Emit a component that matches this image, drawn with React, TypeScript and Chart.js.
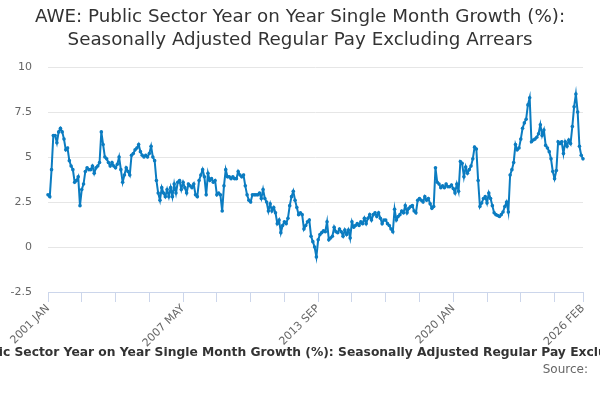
import { useEffect, useRef } from 'react'
import { Chart, registerables } from 'chart.js'

Chart.register(...registerables)

const TITLE = [
  'AWE: Public Sector Year on Year Single Month Growth (%):',
  'Seasonally Adjusted Regular Pay Excluding Arrears',
]
const SERIES_NAME =
  'AWE: Public Sector Year on Year Single Month Growth (%): Seasonally Adjusted Regular Pay Excluding Arrears'
const SOURCE = 'Source:'

const MONTHS = ['JAN', 'FEB', 'MAR', 'APR', 'MAY', 'JUN', 'JUL', 'AUG', 'SEP', 'OCT', 'NOV', 'DEC']
const FIRST_YEAR = 2001

// monthly values, 2001 JAN .. 2026 FEB
const VALUES = [
  2.9, 2.8, 4.3, 6.2, 6.2, 5.8, 6.4, 6.6, 6.4, 6.0, 5.4, 5.5,
  4.8, 4.5, 4.3, 3.6, 3.7, 3.9, 2.3, 3.2, 3.5, 4.2, 4.4, 4.3,
  4.3, 4.5, 4.1, 4.4, 4.5, 4.7, 6.4, 5.7, 5.0, 4.9, 4.7, 4.5,
  4.7, 4.5, 4.4, 4.6, 5.0, 4.3, 3.6, 4.0, 4.4, 4.2, 4.0, 5.1,
  5.2, 5.4, 5.5, 5.7, 5.3, 5.1, 5.0, 5.1, 5.0, 5.2, 5.6, 5.0,
  4.8, 3.7, 3.0, 2.6, 3.3, 3.0, 2.8, 3.2, 2.8, 3.3, 2.8, 3.5,
  3.0, 3.6, 3.7, 3.2, 3.6, 3.3, 3.0, 3.5, 3.4, 3.3, 3.5, 2.9,
  2.8, 3.7, 4.0, 4.3, 3.9, 2.9, 4.1, 3.7, 3.8, 3.6, 3.7, 2.9,
  3.0, 2.9, 2.0, 3.4, 4.3, 3.9, 3.9, 3.8, 3.9, 3.8, 3.8, 4.2,
  4.0, 3.9, 4.0, 3.4, 2.9, 2.6, 2.5, 2.9, 2.9, 2.9, 2.9, 3.0,
  2.7, 3.2, 2.7, 2.5, 2.0, 2.4, 2.0, 2.2, 1.9, 1.3, 1.5, 0.8,
  1.2, 1.4, 1.3, 1.6, 2.3, 2.8, 3.1, 2.6, 2.2, 1.8, 1.9, 1.8,
  1.0, 1.2, 1.4, 1.5, 0.6, 0.3, 0.0, -0.55, 0.4, 0.7, 0.8, 0.9,
  0.85, 1.4, 0.4, 0.5, 0.6, 1.1, 0.85, 0.8, 1.0, 0.85, 0.6, 0.95,
  0.7, 0.95, 0.5, 1.4, 1.1, 1.2, 1.3, 1.2, 1.4, 1.3, 1.6, 1.3,
  1.6, 1.8, 1.5, 1.8, 1.9, 1.7, 1.9, 1.6, 1.3, 1.5, 1.5, 1.3,
  1.2, 1.0, 0.85, 2.1, 1.5, 1.7, 1.8, 2.0, 1.9, 2.3, 1.9, 2.15,
  2.25, 2.3, 2.0, 1.9, 2.6, 2.7, 2.6, 2.5, 2.8, 2.6, 2.7, 2.4,
  2.15, 2.25, 4.4, 3.6, 3.5, 3.3, 3.4, 3.3, 3.5, 3.35, 3.35, 3.45,
  3.25, 3.0, 3.5, 3.1, 4.75, 4.65, 3.9, 4.45, 4.1, 4.3, 4.5, 4.9,
  5.55, 5.45, 3.7, 2.25, 2.45, 2.7, 2.8, 2.45, 3.0, 2.7, 2.3, 1.9,
  1.8, 1.75, 1.7, 1.8, 1.95, 2.25, 2.5, 1.95, 4.0, 4.3, 4.7, 5.7,
  5.4, 5.5, 6.0, 6.6, 6.9, 7.1, 7.9, 8.3, 5.85, 5.95, 6.0, 6.1,
  6.3, 6.8, 6.2, 6.5, 5.65, 5.5, 5.3, 4.9, 4.2, 3.8, 4.25, 5.85,
  5.75, 5.85, 5.2, 5.85, 5.6, 5.95, 5.75, 6.7, 7.8, 8.5, 7.5, 5.6,
  5.1, 4.9,
]

const CATEGORIES = VALUES.map((_, i) => `${FIRST_YEAR + Math.floor(i / 12)} ${MONTHS[i % 12]}`)

const X_LABELS = ['2001 JAN', '2007 MAY', '2013 SEP', '2020 JAN', '2026 FEB']
const X_TICK_STEP = 19
const Y_TICKS = [-2.5, 0, 2.5, 5, 7.5, 10]

const FONT = '"DejaVu Sans", Verdana, sans-serif'
const LINE_COLOR = '#0b7cc1'

export default function App() {
  const canvasRef = useRef<HTMLCanvasElement>(null)
  const chartRef = useRef<Chart | null>(null)

  useEffect(() => {
    document.body.style.margin = '0'
    if (!canvasRef.current) return
    const ctx = canvasRef.current.getContext('2d')
    if (!ctx) return

    chartRef.current = new Chart(ctx, {
      type: 'line',
      data: {
        labels: CATEGORIES,
        datasets: [
          {
            label: SERIES_NAME,
            data: VALUES,
            borderColor: LINE_COLOR,
            backgroundColor: LINE_COLOR,
            borderWidth: 2,
            pointRadius: 1.8,
            pointBorderWidth: 0,
            tension: 0,
            yAxisID: 'y',
          },
        ],
      },
      options: {
        responsive: true,
        maintainAspectRatio: false,
        animation: false,
        layout: { padding: 0 },
        plugins: {
          legend: { display: false },
          tooltip: { enabled: false },
          title: {
            display: true,
            text: TITLE,
            color: '#333333',
            font: { family: FONT, size: 18.3, weight: 'normal', lineHeight: 1.26 },
            padding: { top: 6, bottom: 15 },
          },
        },
        scales: {
          x: {
            afterFit: (scale: any) => {
              scale.height = 108
            },
            afterBuildTicks: (scale: any) => {
              const last = VALUES.length - 1
              scale.ticks = scale.ticks.filter(
                (t: any) => t.value % X_TICK_STEP === 0 || t.value === last
              )
            },
            ticks: {
              autoSkip: false,
              maxRotation: 45,
              minRotation: 45,
              padding: 0,
              color: '#666666',
              font: { family: FONT, size: 11 },
              callback: (value: any) => {
                const lbl = CATEGORIES[value as number]
                return X_LABELS.includes(lbl) ? lbl : ''
              },
            },
            grid: {
              display: true,
              drawOnChartArea: false,
              drawTicks: true,
              tickLength: 10,
              color: '#ccd6eb',
            },
            border: { display: true, color: '#ccd6eb' },
          },
          y: {
            min: -2.5,
            max: 10,
            afterFit: (scale: any) => {
              scale.width = 48
            },
            afterBuildTicks: (scale: any) => {
              scale.ticks = Y_TICKS.map(v => ({ value: v }))
            },
            ticks: {
              padding: 16,
              color: '#666666',
              font: { family: FONT, size: 11 },
              callback: (value: any) => String(value),
            },
            grid: { color: '#e6e6e6', drawTicks: false },
            border: { display: false },
          },
          // empty right-hand gutter, so the title stays centred on the whole page
          gutter: {
            type: 'linear',
            position: 'right',
            display: true,
            afterFit: (scale: any) => {
              scale.width = 17
            },
            ticks: { display: false },
            grid: { display: false, drawTicks: false },
            border: { display: false },
          },
        },
      },
    } as any)

    return () => {
      chartRef.current?.destroy()
      chartRef.current = null
    }
  }, [])

  return (
    <div style={{ position: 'relative', width: 600, height: 400, overflow: 'hidden', background: '#fff' }}>
      <canvas ref={canvasRef} role="img" aria-label={SERIES_NAME} />
      <div
        style={{
          position: 'absolute',
          left: 0,
          top: 343,
          width: 600,
          height: 18,
          overflow: 'hidden',
          display: 'flex',
          justifyContent: 'center',
          whiteSpace: 'nowrap',
          fontFamily: FONT,
          fontWeight: 'bold',
          fontSize: 12.3,
          lineHeight: '18px',
          color: '#333333',
        }}
      >
        <span style={{ display: 'inline-flex', alignItems: 'center', flexShrink: 0 }}>
          <span
            style={{
              display: 'inline-block',
              width: 16,
              height: 2,
              background: LINE_COLOR,
              marginRight: 5,
            }}
          />
          {SERIES_NAME}
        </span>
      </div>
      <div
        style={{
          position: 'absolute',
          right: 12,
          top: 361,
          fontFamily: FONT,
          fontSize: 12,
          lineHeight: '16px',
          color: '#666666',
          whiteSpace: 'nowrap',
        }}
      >
        {SOURCE}
      </div>
    </div>
  )
}
